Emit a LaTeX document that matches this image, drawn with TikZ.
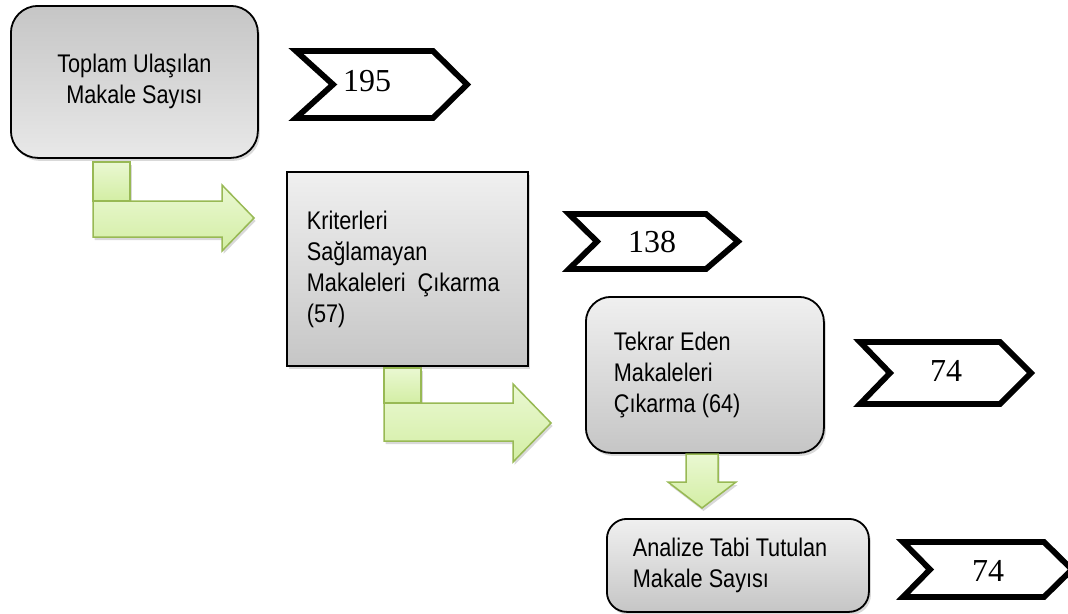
\documentclass[tikz,border=0pt]{standalone}
\usepackage{fontspec}
\setmainfont{Liberation Serif}
\newfontfamily\boxfont[FakeStretch=0.85]{Liberation Sans}
\usetikzlibrary{shadows}
\definecolor{grnA}{HTML}{EAF8D2}
\definecolor{grnB}{HTML}{D3EEA4}
\definecolor{grnline}{HTML}{98B954}
\tikzset{
  box/.style={draw=black, line width=1.8pt, anchor=north west, inner ysep=0pt,
    top color=gray!12, bottom color=gray!45,
    drop shadow={opacity=0.3, shadow xshift=2pt, shadow yshift=-3pt},
    font=\boxfont\fontsize{25.5}{31}\selectfont},
  chev/.style={draw=black, line width=5.8pt, line join=miter, fill=white},
  num/.style={font=\fontsize{32}{32}\selectfont, inner sep=0pt},
  garrow/.style={draw=grnline, line width=1.5pt, line join=miter,
    top color=grnA, bottom color=grnB,
    drop shadow={opacity=0.3, shadow xshift=1.5pt, shadow yshift=-3pt}}
}
\begin{document}
\begin{tikzpicture}[x=1pt,y=-1pt]
\useasboundingbox (0,0) rectangle (1068,613);

% boxes
\node[box, top color=gray!45, bottom color=gray!18, rounded corners=27pt,
  minimum width=247pt, minimum height=152pt, align=center] (b1) at (10,5)
  {Toplam Ulaşılan\\Makale Sayısı};
\node[box, minimum width=241pt, minimum height=194pt, text width=201pt,
  inner xsep=20pt, align=flush left] (b2) at (286,171)
  {Kriterleri\\Sağlamayan\\Makaleleri~ Çıkarma\\(57)};
\node[box, rounded corners=25pt, minimum width=238pt, minimum height=156pt,
  text width=182pt, inner xsep=27pt, align=flush left] (b3) at (585,296)
  {Tekrar Eden\\Makaleleri\\Çıkarma (64)};
\node[box, rounded corners=20pt, minimum width=262pt, minimum height=93pt,
  text width=210pt, inner xsep=26pt, align=flush left] (b4) at (606,518)
  {Analize Tabi Tutulan\\Makale Sayısı};

% chevrons
\draw[chev] (296,51) -- (433,51) -- (467,84.5) -- (433,118) -- (296,118) -- (333,84.5) -- cycle;
\draw[chev] (569,214) -- (706,214) -- (738,241.5) -- (706,269) -- (569,269) -- (597,241.5) -- cycle;
\draw[chev] (860,342) -- (1000,342) -- (1031,373) -- (1000,404) -- (860,404) -- (890,373) -- cycle;
\draw[chev] (903,542) -- (1044,542) -- (1072,569.5) -- (1044,597) -- (903,597) -- (930,569.5) -- cycle;
\node[num] (n1) at (367,81) {195};
\node[num] (n2) at (652,242.5) {138};
\node[num] (n3) at (946,371) {74};
\node[num] (n4) at (988,571) {74};

% green arrows
\path[garrow] (93,162) rectangle (130,201);
\path[garrow] (93,201) -- (222,201) -- (222,185) -- (254,218) -- (222,251) -- (222,237) -- (93,237) -- cycle;
\path[garrow] (384,368) rectangle (421,403);
\path[garrow] (384,403) -- (513,403) -- (513,384) -- (551,423) -- (513,462) -- (513,441) -- (384,441) -- cycle;
\path[garrow] (686,454) -- (718,454) -- (718,482) -- (736,482) -- (702,508) -- (668,482) -- (686,482) -- cycle;
\end{tikzpicture}
\end{document}
